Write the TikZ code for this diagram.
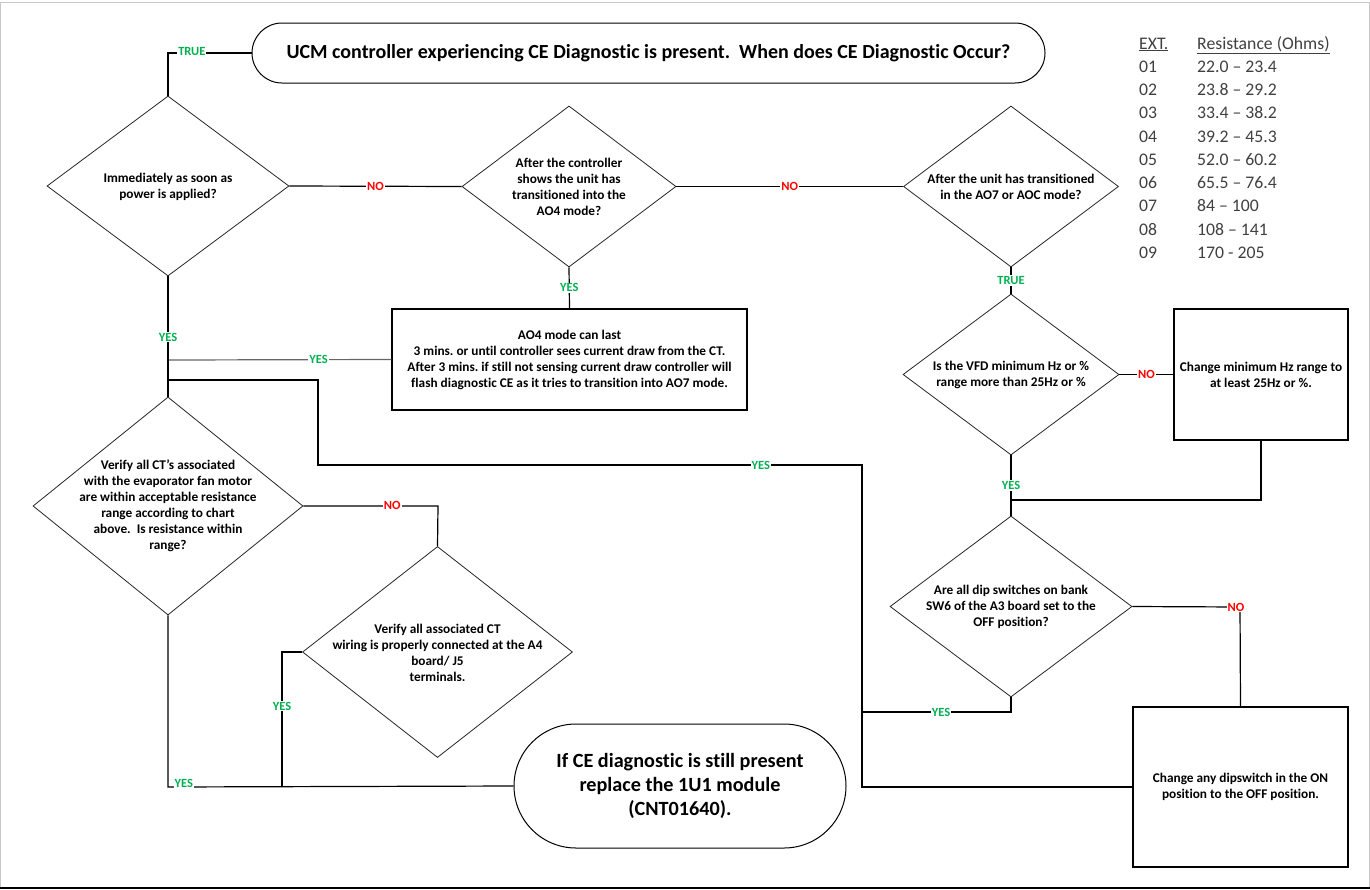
\documentclass[tikz,border=0pt]{standalone}
\usepackage{fontspec}
\setmainfont{Carlito}[Ligatures=NoCommon]
\usetikzlibrary{shapes.geometric}
\definecolor{yesgreen}{RGB}{0,176,80}
\definecolor{nored}{RGB}{255,0,0}
\definecolor{tablegray}{RGB}{64,64,64}
\definecolor{framegray}{RGB}{200,200,200}
\frenchspacing
\begin{document}
\begin{tikzpicture}[x=1pt,y=-1pt,
  conn/.style={draw=black, line width=1.2pt},
  dia/.style={shape=diamond, draw=black!85, line width=0.8pt, inner sep=0pt},
  dtext/.style={font=\bfseries\fontsize{13.3}{16}\selectfont, align=center, inner sep=0pt},
  boxnode/.style={draw=black, line width=1.3pt, inner sep=0pt, align=center, font=\bfseries\fontsize{13.3}{16}\selectfont},
  term/.style={draw=black, line width=1pt, inner sep=0pt, align=center},
  lblbase/.style={font=\bfseries\fontsize{12.5}{13}\selectfont, fill=white, inner sep=1pt},
  yeslbl/.style={lblbase, text=yesgreen},
  truelbl/.style={lblbase, text=yesgreen},
  nolbl/.style={lblbase, text=nored},
  tbl/.style={font=\fontsize{17.7}{20}\selectfont, text=tablegray, anchor=base west, inner sep=0pt}
]
\useasboundingbox (0,0) rectangle (1370,889);
% frame
\draw[framegray, line width=1pt] (0.5,889) -- (0.5,2) -- (1369,2) -- (1369,887);
\draw[black, line width=2pt] (0,888) -- (1370,888);

% terminators
\node[term, rounded corners=30pt, minimum width=793pt, minimum height=60pt,
      font=\bfseries\fontsize{20}{24}\selectfont] (t1) at (648.5,53)
  {UCM controller experiencing CE Diagnostic is present.\ \ When does CE Diagnostic Occur?};
\node[term, rounded corners=62pt, minimum width=332pt, minimum height=124pt,
      font=\bfseries\fontsize{20.2}{24}\selectfont] (t2) at (680,786)
  {If CE diagnostic is still present\\replace the 1U1 module\\(CNT01640).};

% diamonds
\node[dia, minimum width=242pt, minimum height=180pt] (d1) at (168,186) {};
\node[dtext] (d1t) at (168,187) {Immediately as soon as\\power is applied?};
\node[dia, minimum width=214pt, minimum height=161pt] (d2) at (569,186.5) {};
\node[dtext] (d2t) at (569,187) {After the controller\\shows the unit has\\transitioned into the\\AO4 mode?};
\node[dia, minimum width=215pt, minimum height=161pt] (d3) at (1011,186.5) {};
\node[dtext] (d3t) at (1011,187) {After the unit has transitioned\\in the AO7 or AOC mode?};
\node[dia, minimum width=216pt, minimum height=161pt] (d4) at (1011,374.5) {};
\node[dtext] (d4t) at (1011,375) {Is the VFD minimum Hz or \%\\range more than 25Hz or \%};
\node[dia, minimum width=242pt, minimum height=181pt] (d5) at (1011,606.5) {};
\node[dtext] (d5t) at (1011,607) {Are all dip switches on bank\\SW6 of the A3 board set to the\\OFF position?};
\node[dia, minimum width=270pt, minimum height=218pt] (d6) at (168,506) {};
\node[dtext] (d6t) at (168,506) {Verify all CT’s associated\\with the evaporator fan motor\\are within acceptable resistance\\range according to chart\\above.\ \ Is resistance within\\range?};
\node[dia, minimum width=270pt, minimum height=211pt] (d7) at (437.5,652) {};
\node[dtext] (d7t) at (437.5,652.5) {Verify all associated CT\\wiring is properly connected at the A4\\board/ J5\\terminals.};

% boxes
\node[boxnode, minimum width=355pt, minimum height=101pt] (b1) at (569.5,359.5)
  {AO4 mode can last\\3 mins. or until controller sees current draw from the CT.\\After 3 mins. if still not sensing current draw controller will\\flash diagnostic CE as it tries to transition into AO7 mode.};
\node[boxnode, minimum width=174pt, minimum height=131pt] (b2) at (1261,374.5)
  {Change minimum Hz range to\\at least 25Hz or \%.};
\node[boxnode, minimum width=215pt, minimum height=160pt] (b3) at (1240.5,787)
  {Change any dipswitch in the ON\\position to the OFF position.};

% junction coordinates
\coordinate (c1) at (168,53);
\coordinate (j3) at (168,360);
\coordinate (j4) at (168,380);
\coordinate (k1) at (318,380);
\coordinate (k2) at (318,465);
\coordinate (k3) at (862,465);
\coordinate (j2) at (862,712);
\coordinate (k4) at (862,787);
\coordinate (j1) at (1011,500);
\coordinate (c2) at (1261,500);
\coordinate (c3) at (1011,712);
\coordinate (c5) at (1240,607);
\coordinate (c6) at (438,506);
\coordinate (c7) at (168,787);
\coordinate (c8) at (282,652);
\coordinate (c9) at (282,787);

% connectors
\draw[conn] (t1.west) -- node[truelbl,pos=0.714,yshift=2pt] (l1) {TRUE} (c1) -- (d1.north);
\draw[conn] (d1.east) -- node[nolbl] (l2) {NO} (d2.west);
\draw[conn] (d2.east) -- node[nolbl] (l3) {NO} (d3.west);
\draw[conn] (d2.south) -- node[yeslbl] (l4) {YES} (b1.north);
\draw[conn] (d3.south) -- node[truelbl] (l5) {TRUE} (d4.north);
\draw[conn] (d4.east) -- node[nolbl] (l6) {NO} (b2.west);
\draw[conn] (b2.south) -- (c2) -- (j1);
\draw[conn] (d4.south) -- node[yeslbl] (l7) {YES} (d5.north);
\draw[conn] (d5.east) -- node[nolbl,pos=0.963] (l8) {NO} (c5) -- (b3.north);
\draw[conn] (d5.south) -- (c3) -- node[yeslbl,pos=0.47] (l9) {YES} (j2);
\draw[conn] (j4) -- (k1) -- (k2) -- node[yeslbl,pos=0.814] (l10) {YES} (k3) -- (k4) -- (b3.west);
\draw[conn, draw=black!60] (b1.west) -- node[yeslbl,pos=0.326] (l11) {YES} (j3);
\draw[conn] (d1.south) -- node[yeslbl,pos=0.504] (l12) {YES} (d6.north);
\draw[conn] (d6.east) -- node[nolbl,pos=0.66,yshift=1pt] (l13) {NO} (c6) -- (d7.north);
\draw[conn] (d6.south) -- (c7) -- node[yeslbl,pos=0.046,yshift=4pt] (l14) {YES} (t2.west);
\draw[conn] (d7.west) -- (c8) -- node[yeslbl,pos=0.4] (l15) {YES} (c9);

% resistance table
\node[tbl] (h1) at (1139,49) {\underline{EXT.}};
\node[tbl] (h2) at (1197,49) {\underline{Resistance (Ohms)}};
\node[tbl] (r1a) at (1139,72) {01};  \node[tbl] (r1b) at (1197,72) {22.0 – 23.4};
\node[tbl] (r2a) at (1139,95) {02};  \node[tbl] (r2b) at (1197,95) {23.8 – 29.2};
\node[tbl] (r3a) at (1139,118) {03}; \node[tbl] (r3b) at (1197,118) {33.4 – 38.2};
\node[tbl] (r4a) at (1139,142) {04}; \node[tbl] (r4b) at (1197,142) {39.2 – 45.3};
\node[tbl] (r5a) at (1139,165) {05}; \node[tbl] (r5b) at (1197,165) {52.0 – 60.2};
\node[tbl] (r6a) at (1139,188) {06}; \node[tbl] (r6b) at (1197,188) {65.5 – 76.4};
\node[tbl] (r7a) at (1139,211) {07}; \node[tbl] (r7b) at (1197,211) {84 – 100};
\node[tbl] (r8a) at (1139,235) {08}; \node[tbl] (r8b) at (1197,235) {108 – 141};
\node[tbl] (r9a) at (1139,258) {09}; \node[tbl] (r9b) at (1197,258) {170 - 205};
\end{tikzpicture}
\end{document}
